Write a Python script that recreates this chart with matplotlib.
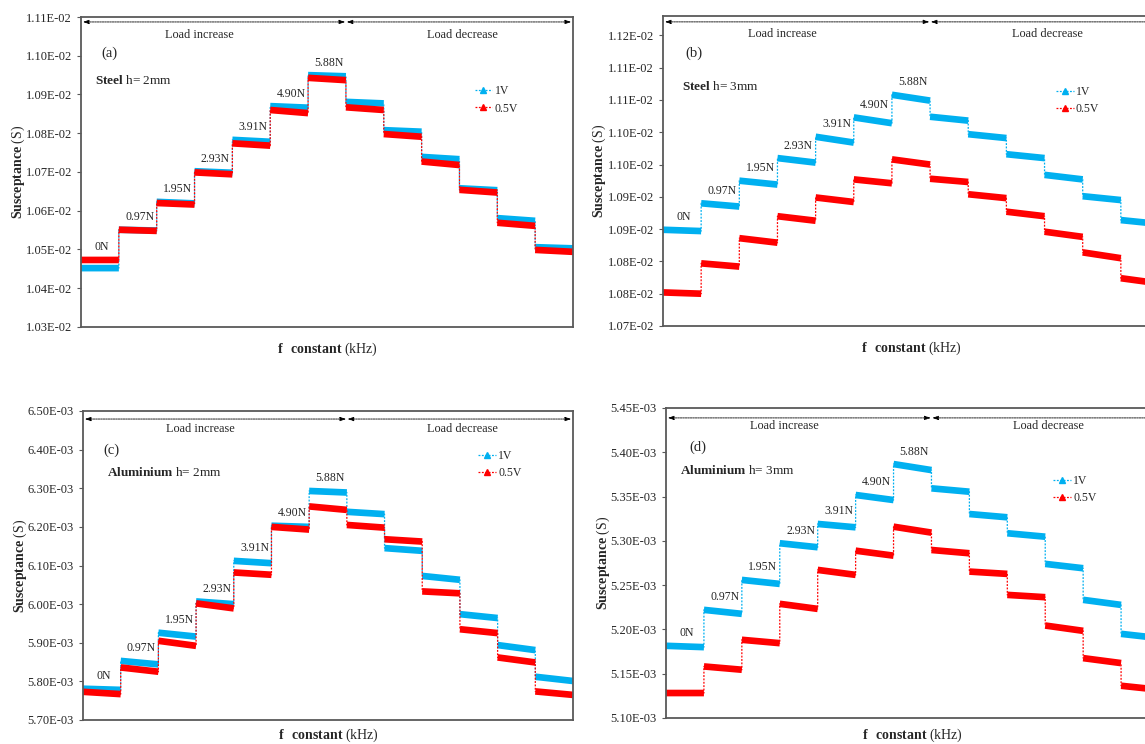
import numpy as np
import matplotlib
matplotlib.use('Agg')
import matplotlib.pyplot as plt
from matplotlib.lines import Line2D

plt.rcParams['font.family'] = ['Liberation Serif', 'DejaVu Serif']
plt.rcParams['mathtext.fontset'] = 'custom'
plt.rcParams['mathtext.rm'] = 'Liberation Serif'
plt.rcParams['mathtext.bf'] = 'Liberation Serif:bold'

# force steps (load increase then load decrease)
forces = ['0N', '0.97N', '1.95N', '2.93N', '3.91N', '4.90N', '5.88N']

# (a) steel h=2mm, values in E-02 S : start / end of each step
a_blue_start = [1.0452, 1.0551, 1.0623, 1.0702, 1.0783, 1.0870, 1.0950, 1.0881, 1.0808, 1.0739, 1.0658, 1.0581, 1.0506]
a_blue_end = [1.0452, 1.0549, 1.0619, 1.0698, 1.0778, 1.0866, 1.0947, 1.0877, 1.0804, 1.0733, 1.0653, 1.0574, 1.0503]
a_red_start = [1.0473, 1.0551, 1.0620, 1.0699, 1.0774, 1.0860, 1.0943, 1.0867, 1.0798, 1.0727, 1.0654, 1.0569, 1.0499]
a_red_end = [1.0473, 1.0548, 1.0616, 1.0694, 1.0768, 1.0852, 1.0937, 1.0860, 1.0791, 1.0718, 1.0647, 1.0561, 1.0494]
a_ticks = [1.03, 1.04, 1.05, 1.06, 1.07, 1.08, 1.09, 1.10, 1.11]
a_labels = ['1.03E-02', '1.04E-02', '1.05E-02', '1.06E-02', '1.07E-02', '1.08E-02', '1.09E-02', '1.10E-02', '1.11E-02']

# (b) steel h=3mm, E-02 S
b_blue_start = [1.0849, 1.0890, 1.0925, 1.0960, 1.0993, 1.1023, 1.1058, 1.1024, 1.0997, 1.0966, 1.0934, 1.0901, 1.0864]
b_blue_end = [1.0847, 1.0885, 1.0919, 1.0953, 1.0984, 1.1014, 1.1049, 1.1018, 1.0991, 1.0960, 1.0927, 1.0895, 1.0858]
b_red_start = [1.0752, 1.0797, 1.0836, 1.0870, 1.0899, 1.0927, 1.0958, 1.0928, 1.0904, 1.0877, 1.0846, 1.0814, 1.0774]
b_red_end = [1.0750, 1.0792, 1.0829, 1.0863, 1.0892, 1.0921, 1.0950, 1.0923, 1.0898, 1.0870, 1.0838, 1.0805, 1.0766]
b_ticks = [1.070, 1.075, 1.080, 1.085, 1.090, 1.095, 1.100, 1.105, 1.110, 1.115]
b_labels = ['1.07E-02', '1.08E-02', '1.08E-02', '1.09E-02', '1.09E-02', '1.10E-02', '1.10E-02', '1.11E-02', '1.11E-02', '1.12E-02']

# (c) aluminium h=2mm, E-03 S
c_blue_start = [5.781, 5.853, 5.926, 6.007, 6.112, 6.203, 6.293, 6.239, 6.145, 6.073, 5.974, 5.894, 5.812]
c_blue_end = [5.778, 5.844, 5.916, 6.000, 6.106, 6.200, 6.289, 6.233, 6.138, 6.063, 5.964, 5.881, 5.801]
c_red_start = [5.773, 5.836, 5.905, 6.002, 6.082, 6.200, 6.253, 6.205, 6.168, 6.033, 5.935, 5.862, 5.774]
c_red_end = [5.767, 5.825, 5.892, 5.989, 6.076, 6.193, 6.244, 6.198, 6.162, 6.028, 5.925, 5.849, 5.765]
c_ticks = [5.70, 5.80, 5.90, 6.00, 6.10, 6.20, 6.30, 6.40, 6.50]
c_labels = ['5.70E-03', '5.80E-03', '5.90E-03', '6.00E-03', '6.10E-03', '6.20E-03', '6.30E-03', '6.40E-03', '6.50E-03']

# (d) aluminium h=3mm, E-03 S
d_blue_start = [5.1815, 5.2221, 5.2559, 5.2973, 5.3191, 5.3518, 5.3867, 5.3593, 5.3303, 5.3086, 5.2740, 5.2334, 5.1950]
d_blue_end = [5.1800, 5.2176, 5.2514, 5.2928, 5.3153, 5.3461, 5.3799, 5.3555, 5.3266, 5.3047, 5.2691, 5.2277, 5.1902]
d_red_start = [5.1282, 5.1582, 5.1883, 5.2289, 5.2672, 5.2889, 5.3160, 5.2897, 5.2653, 5.2390, 5.2044, 5.1676, 5.1364]
d_red_end = [5.1282, 5.1545, 5.1845, 5.2232, 5.2616, 5.2833, 5.3093, 5.2860, 5.2627, 5.2364, 5.1984, 5.1620, 5.1319]
d_ticks = [5.10, 5.15, 5.20, 5.25, 5.30, 5.35, 5.40, 5.45]
d_labels = ['5.10E-03', '5.15E-03', '5.20E-03', '5.25E-03', '5.30E-03', '5.35E-03', '5.40E-03', '5.45E-03']

BLUE = '#00B0F0'
RED = '#FF0000'
AXC = '#595959'
TXT = '#262626'

W, H = 1145, 744
fig = plt.figure(figsize=(W / 100, H / 100), dpi=100)


def make_axes(left, top, right, bottom):
    # pixel box -> figure fraction
    return fig.add_axes([left / W, 1 - bottom / H, (right - left) / W, (bottom - top) / H])


def draw_panel(ax, bs, be, rs, re, ticks, labels, ylim, tag, material, arrow_y, leg_xy, title_xy, tag_xy,
               xlab_y=-0.072):
    n = len(bs)
    for s, e, color in [(bs, be, BLUE), (rs, re, RED)]:
        xs, ys, bx, by = [], [], [], []
        for i in range(n):
            xs += [i, i + 1]
            ys += [s[i], e[i]]
            bx += [i, i + 1, np.nan]
            by += [s[i], e[i], np.nan]
        # dotted connection (vertical risers)
        ax.plot(xs, ys, color=color, lw=0.9, ls=(0, (1.5, 1.2)))
        # thick band of each step
        ax.plot(bx, by, color=color, lw=4.8, solid_capstyle='butt')

    ax.set_xlim(0, n)
    ax.set_ylim(ylim)
    ax.set_xticks([])
    ax.set_yticks(ticks, labels)
    ax.tick_params(axis='y', direction='out', length=3, width=0.8, colors=AXC,
                   labelcolor=TXT, labelsize=9, pad=3.5)
    for sp in ax.spines.values():
        sp.set_color(AXC)
        sp.set_linewidth(1.3)

    ax.set_ylabel(r'$\mathbf{Susceptance}$ (S)', fontsize=10, color=TXT, va='center')
    ax.yaxis.set_label_coords(-0.128, 0.5)
    ax.set_xlabel(r'$\mathbf{f\ \ constant}$ (kHz)', fontsize=10, color=TXT, va='center')
    ax.xaxis.set_label_coords(0.5, xlab_y)

    # force labels above the increasing steps
    for i, lab in enumerate(forces):
        top = max(bs[i], rs[i])
        ax.annotate(lab, (i + 0.55, top), xytext=(0, 9), textcoords='offset points',
                    ha='center', va='center', fontsize=8.5, color=TXT)

    # load increase / decrease arrows
    mid = 7
    aprops = dict(arrowstyle='<|-|>,head_length=0.35,head_width=0.12', lw=0.6,
                  ls=(0, (2, 1)), color='black', shrinkA=0, shrinkB=0)
    ax.annotate('', xy=(0.05, arrow_y), xytext=(mid - 0.02, arrow_y),
                xycoords=('data', 'axes fraction'), arrowprops=aprops)
    ax.annotate('', xy=(mid + 0.02, arrow_y), xytext=(n - 0.05, arrow_y),
                xycoords=('data', 'axes fraction'), arrowprops=aprops)
    ax.text(0.24, 0.942, 'Load increase', transform=ax.transAxes, ha='center', va='center',
            fontsize=8.8, color=TXT)
    ax.text(0.775, 0.942, 'Load decrease', transform=ax.transAxes, ha='center', va='center',
            fontsize=8.8, color=TXT)

    ax.text(tag_xy[0], tag_xy[1], tag, transform=ax.transAxes, ha='center', va='center',
            fontsize=10.5, color=TXT)
    ax.text(title_xy[0], title_xy[1], material, transform=ax.transAxes, ha='left', va='center',
            fontsize=9.5, color=TXT)

    handles = [Line2D([], [], color=BLUE, ls=(0, (1.5, 1.2)), lw=0.9, marker='^', markersize=4.5),
               Line2D([], [], color=RED, ls=(0, (1.5, 1.2)), lw=0.9, marker='^', markersize=4.5)]
    ax.legend(handles, ['1V', '0.5V'], loc='upper left', bbox_to_anchor=leg_xy, frameon=False,
              fontsize=8.5, borderpad=0, borderaxespad=0, handlelength=1.5, handletextpad=0.2,
              labelspacing=0.45, numpoints=1, labelcolor=TXT)


ax_a = make_axes(81, 17, 573, 327)
ax_b = make_axes(663, 16, 1159, 326)
ax_c = make_axes(83, 411, 573, 720)
ax_d = make_axes(666, 408, 1159, 718)

draw_panel(ax_a, [v * 1e-2 for v in a_blue_start], [v * 1e-2 for v in a_blue_end],
           [v * 1e-2 for v in a_red_start], [v * 1e-2 for v in a_red_end],
           [t * 1e-2 for t in a_ticks], a_labels, (1.03e-2, 1.11e-2),
           '(a)', r'$\mathbf{Steel}$ h= 2mm', 0.984, (0.80, 0.78), (0.028, 0.794), (0.057, 0.884))
draw_panel(ax_b, [v * 1e-2 for v in b_blue_start], [v * 1e-2 for v in b_blue_end],
           [v * 1e-2 for v in b_red_start], [v * 1e-2 for v in b_red_end],
           [t * 1e-2 for t in b_ticks], b_labels, (1.070e-2, 1.118e-2),
           '(b)', r'$\mathbf{Steel}$ h= 3mm', 0.981, (0.792, 0.775), (0.038, 0.774), (0.0625, 0.88))
draw_panel(ax_c, [v * 1e-3 for v in c_blue_start], [v * 1e-3 for v in c_blue_end],
           [v * 1e-3 for v in c_red_start], [v * 1e-3 for v in c_red_end],
           [t * 1e-3 for t in c_ticks], c_labels, (5.70e-3, 6.50e-3),
           '(c)', r'$\mathbf{Aluminium}$ h= 2mm', 0.974, (0.806, 0.874), (0.049, 0.80), (0.059, 0.874),
           xlab_y=-0.048)
draw_panel(ax_d, [v * 1e-3 for v in d_blue_start], [v * 1e-3 for v in d_blue_end],
           [v * 1e-3 for v in d_red_start], [v * 1e-3 for v in d_red_end],
           [t * 1e-3 for t in d_ticks], d_labels, (5.10e-3, 5.45e-3),
           '(d)', r'$\mathbf{Aluminium}$ h= 3mm', 0.968, (0.785, 0.784), (0.028, 0.80), (0.065, 0.874),
           xlab_y=-0.055)

fig.savefig('out.png', dpi=100)
